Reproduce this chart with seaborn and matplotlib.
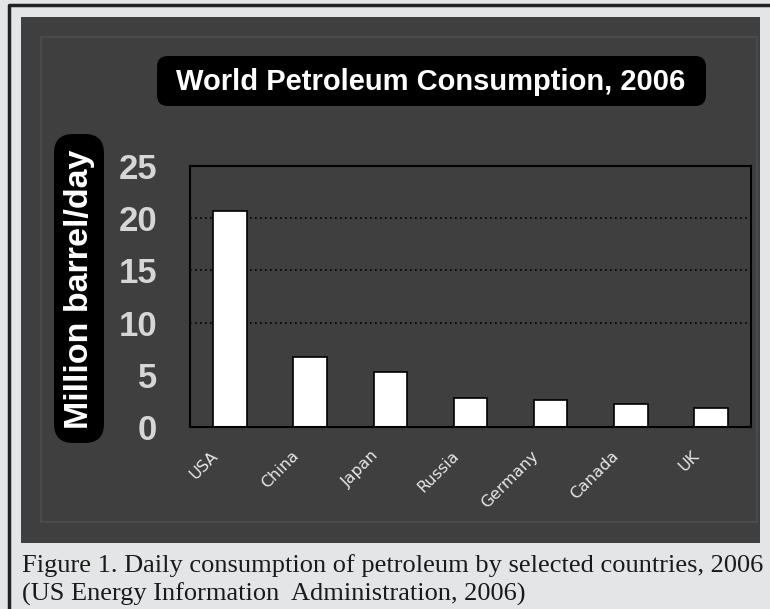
import matplotlib
matplotlib.use("Agg")
import matplotlib.pyplot as plt
from matplotlib.patches import Rectangle, FancyBboxPatch
from matplotlib.lines import Line2D
from matplotlib.transforms import ScaledTranslation
import seaborn as sns
import pandas as pd

# data
countries = ["USA", "China", "Japan", "Russia", "Germany", "Canada", "UK"]
consumption = [20.7, 6.7, 5.3, 2.8, 2.6, 2.2, 1.8]
y_ticks = [0, 5, 10, 15, 20, 25]
grid_levels = [10, 15, 20]

title = "World Petroleum Consumption, 2006"
ylabel = "Million barrel/day"
caption = ["Figure 1. Daily consumption of petroleum by selected countries, 2006",
           "(US Energy Information  Administration, 2006)"]

W, H = 770, 609
DARK = "#3f3f3f"
LIGHT = "#e4e5e7"

sns.set_style("dark")
plt.rcParams["font.family"] = ["Liberation Sans", "DejaVu Sans"]

fig = plt.figure(figsize=(W / 100, H / 100), dpi=100, facecolor=LIGHT)


def px_rect(x0, y0, x1, y1, **kw):
    # rectangle given in pixel coords (origin top-left)
    return Rectangle((x0 / W, 1 - y1 / H), (x1 - x0) / W, (y1 - y0) / H,
                     transform=fig.transFigure, **kw)


# outer frame: dark line on top and left only
fig.add_artist(Line2D([9 / W, 9 / W, 1], [0, 1 - 5 / H, 1 - 5 / H],
                      transform=fig.transFigure, color="#222222", lw=2.5, zorder=-3))
fig.add_artist(px_rect(21, 17, 760, 543, facecolor=DARK, edgecolor="none", zorder=-3))
fig.add_artist(px_rect(41, 37, 757, 522, facecolor="none", edgecolor="#4b4b4b", lw=1.5, zorder=-2))

# title box
fig.add_artist(FancyBboxPatch((157 / W, 1 - 106 / H), 549 / W, 50 / H,
                              boxstyle="round,pad=0,rounding_size=0.014",
                              transform=fig.transFigure, facecolor="black", edgecolor="none",
                              mutation_aspect=W / H, zorder=-1))
fig.text(431 / W, 1 - 82 / H, title, color="white", fontsize=21, fontweight="bold",
         ha="center", va="center")

# y label box
fig.add_artist(FancyBboxPatch((54 / W, 1 - 443 / H), 50 / W, 309 / H,
                              boxstyle="round,pad=0,rounding_size=0.025",
                              transform=fig.transFigure, facecolor="black", edgecolor="none",
                              mutation_aspect=W / H, zorder=-1))
fig.text(80 / W, 1 - 289 / H, ylabel, color="white", fontsize=24.5, fontweight="bold",
         rotation=90, ha="center", va="center")

# caption
fig.text(22 / W, 1 - 566 / H, caption[0], family="Liberation Serif", fontsize=19,
         color="#1a1a1a", va="center")
fig.text(22 / W, 1 - 594 / H, caption[1], family="Liberation Serif", fontsize=19,
         color="#1a1a1a", va="center")

# chart
ax = fig.add_axes([190 / W, 1 - 427 / H, (751 - 190) / W, (427 - 166) / H])
ax.set_zorder(5)
ax.set_facecolor(DARK)
df = pd.DataFrame({"country": countries, "value": consumption})
sns.barplot(data=df, x="country", y="value", color="white", edgecolor="black",
            linewidth=1.2, width=0.42, saturation=1, ax=ax)
for g in grid_levels:
    ax.axhline(g, color="black", ls=(0, (1, 2)), lw=1.2, zorder=0.5)

ax.set_xlim(-0.5, len(countries) - 0.5)
ax.set_ylim(0, 25)
ax.set_yticks(y_ticks)
ax.set_yticklabels([str(t) for t in y_ticks], fontsize=25, fontweight="bold", color="#d6d6d6")
ax.tick_params(axis="y", direction="out", length=9.5, width=1.5, color="black", pad=14)

ax.set_xticks(range(len(countries)))
ax.set_xticklabels(countries, rotation=45, ha="right", rotation_mode="anchor",
                   family="DejaVu Sans", fontsize=11.5, color="#e6e6e6")
ax.tick_params(axis="x", which="major", length=0, pad=15)
shift = ScaledTranslation(-14 / 72, 0, fig.dpi_scale_trans)
for lbl in ax.get_xticklabels():
    lbl.set_transform(lbl.get_transform() + shift)
ax.set_xticks([i - 0.5 for i in range(len(countries) + 1)], minor=True)
ax.tick_params(axis="x", which="minor", direction="out", length=5, width=1.5, color="black")

ax.set_xlabel("")
ax.set_ylabel("")
ax.grid(False)
for side in ["left", "bottom", "top", "right"]:
    ax.spines[side].set_visible(True)
    ax.spines[side].set_color("black")
    ax.spines[side].set_linewidth(1.5)

fig.savefig("out.png", dpi=100, facecolor=LIGHT)
